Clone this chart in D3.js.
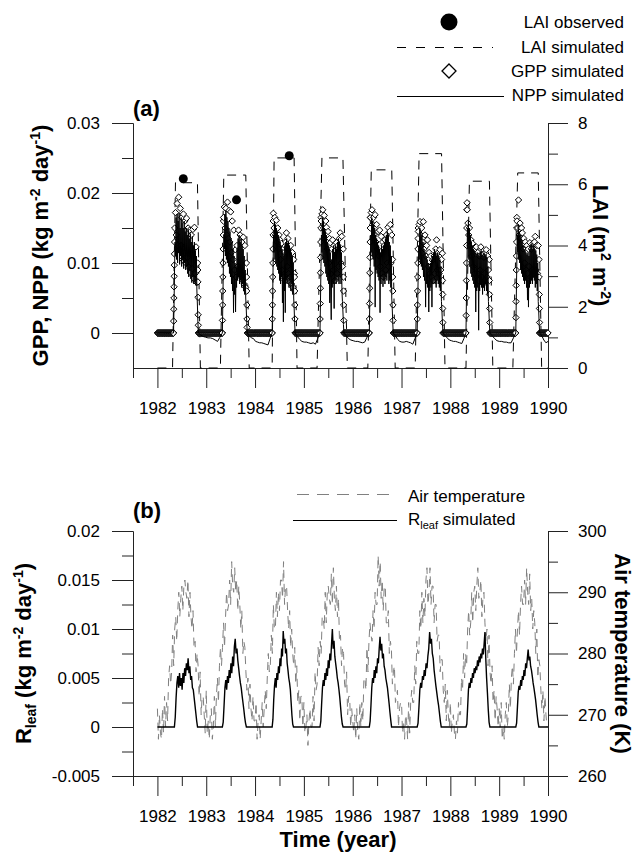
<!DOCTYPE html>
<html>
<head>
<meta charset="utf-8">
<script src="https://cdn.jsdelivr.net/npm/d3@7"></script>
<style>
  body { margin: 0; background: #fff; }
</style>
</head>
<body>
<script>
// ---------------- data ----------------
// growing seasons, decimal year
var seasonStart = [1982.33, 1983.33, 1984.35, 1985.33, 1986.34, 1987.32, 1988.32, 1989.34];
var seasonEnd   = [1982.84, 1983.84, 1984.82, 1985.82, 1986.83, 1987.85, 1988.81, 1989.83];

// GPP, units of 1e-4 kg m-2 day-1 ; rise and fall are daily, mid part evenly spread
var gppRise = [
  [0, 17, 34, 50, 66, 81, 97, 113, 130],
  [0, 18, 40, 60, 80, 100, 120, 140, 160],
  [0, 20, 40, 60, 80, 100, 120, 140, 160],
  [0, 20, 42, 64, 86, 108, 130, 150, 165],
  [0, 20, 42, 64, 86, 108, 130, 150, 165],
  [0, 20, 40, 60, 80, 100, 120, 135, 150],
  [0, 25, 50, 75, 100, 125, 150, 176, 186],
  [0, 22, 45, 68, 90, 110, 130, 150, 165]
];
var gppMid = [
  [150, 172, 140, 185, 125, 194, 118, 178, 125, 165, 105, 170, 115, 160, 100, 164, 108, 150, 94, 147, 86, 140, 92, 148, 78, 151, 85, 123, 72, 100],
  [165, 180, 150, 178, 140, 187, 135, 175, 130, 173, 115, 160, 105, 147, 90, 119, 80, 125, 95, 147, 90, 140, 85, 130, 75, 137, 70, 125, 65, 100],
  [171, 150, 165, 140, 161, 130, 150, 120, 140, 133, 105, 128, 90, 119, 80, 115, 75, 130, 143, 95, 135, 85, 119, 80, 125, 70, 115, 65, 105, 85],
  [160, 170, 176, 150, 168, 135, 160, 151, 120, 145, 100, 135, 129, 85, 120, 133, 90, 125, 75, 118, 129, 85, 125, 95, 135, 143, 100, 138, 95, 120],
  [165, 172, 176, 155, 165, 140, 169, 130, 155, 120, 145, 110, 147, 95, 138, 85, 130, 80, 125, 133, 90, 140, 100, 151, 95, 145, 155, 100, 140, 105],
  [145, 155, 159, 140, 150, 130, 159, 120, 140, 110, 125, 133, 95, 115, 85, 110, 80, 104, 75, 110, 85, 120, 133, 90, 115, 85, 119, 90, 105, 114],
  [176, 157, 140, 150, 125, 133, 110, 128, 95, 120, 85, 118, 123, 80, 115, 75, 110, 90, 123, 80, 112, 70, 108, 85, 115, 119, 80, 110, 90, 105],
  [160, 150, 190, 140, 157, 135, 150, 143, 120, 135, 100, 130, 90, 125, 85, 120, 95, 129, 80, 120, 90, 128, 85, 130, 138, 90, 125, 85, 125, 105]
];
var gppFall = [
  [90, 73, 51, 26, 11, 0],
  [80, 60, 40, 20, 8, 0],
  [80, 60, 40, 20, 0],
  [80, 60, 40, 18, 0],
  [80, 60, 40, 18, 0],
  [75, 55, 35, 15, 0],
  [75, 55, 35, 15, 0],
  [80, 55, 35, 15, 0]
];
var gppDormant = 0;

// NPP, units of 1e-4 kg m-2 day-1 ; season values spread from start to end
var nppSeason = [
  [0, 40, 90, 130, 110, 165, 105, 170, 100, 160, 115, 172, 98, 150, 110, 165, 95, 158, 104, 150, 92, 160, 100, 145, 90, 150, 96, 140, 85, 148, 80, 135, 90, 142, 78, 130, 72, 138, 80, 125, 70, 130, 75, 118, 68, 110, 60, 40, 15, 0],
  [0, 45, 95, 140, 120, 170, 110, 175, 105, 165, 100, 160, 95, 150, 85, 145, 80, 135, 70, 130, 60, 120, 29, 110, 55, 100, 30, 95, 65, 120, 75, 135, 80, 140, 70, 130, 75, 135, 65, 125, 70, 120, 60, 110, 55, 90, 50, 35, 15, 0],
  [0, 45, 95, 140, 115, 160, 105, 155, 100, 150, 95, 145, 90, 140, 85, 135, 75, 130, 70, 125, 80, 120, 43, 115, 16, 110, 60, 125, 29, 130, 75, 135, 70, 128, 80, 130, 65, 125, 75, 120, 60, 115, 70, 110, 55, 100, 50, 35, 15, 0],
  [0, 45, 95, 140, 115, 165, 105, 160, 100, 150, 95, 145, 85, 140, 80, 130, 75, 125, 70, 120, 43, 115, 60, 19, 105, 65, 120, 70, 125, 35, 115, 75, 125, 70, 120, 80, 130, 75, 135, 70, 130, 80, 125, 70, 115, 60, 45, 30, 12, 0],
  [0, 45, 95, 140, 115, 165, 110, 160, 105, 155, 95, 150, 37, 140, 90, 135, 85, 130, 80, 125, 75, 120, 29, 115, 70, 125, 80, 120, 66, 125, 75, 130, 70, 135, 80, 140, 75, 145, 85, 140, 70, 130, 75, 125, 65, 110, 50, 35, 15, 0],
  [0, 40, 85, 125, 105, 150, 100, 145, 95, 140, 90, 130, 80, 120, 75, 115, 37, 110, 70, 105, 65, 100, 30, 95, 60, 100, 65, 105, 37, 110, 70, 115, 75, 120, 70, 115, 65, 110, 75, 115, 70, 110, 65, 105, 60, 95, 45, 30, 12, 0],
  [0, 50, 100, 150, 120, 160, 105, 150, 95, 140, 85, 130, 80, 125, 75, 120, 70, 118, 65, 115, 30, 110, 60, 115, 65, 112, 4, 110, 60, 115, 70, 118, 65, 112, 55, 110, 65, 115, 60, 110, 70, 112, 60, 108, 55, 95, 45, 30, 12, 0],
  [0, 45, 95, 140, 115, 155, 105, 145, 100, 140, 90, 135, 85, 130, 80, 125, 75, 120, 70, 118, 75, 115, 65, 112, 47, 115, 37, 110, 65, 120, 70, 125, 75, 128, 70, 120, 80, 125, 75, 120, 65, 118, 70, 112, 60, 100, 45, 30, 12, 0]
];
// NPP in the dormant periods (before 1982 season, between seasons, after 1989 season)
var nppWinter = [
  [0, 0, 0],
  [-3, -5, -6, -7, -7, -8, -10, -12, -6],
  [-4, -7, -8, -12, -13, -14, -14, -15, -16, -17, -8],
  [-5, -9, -12, -13, -13, -14, -15, -14, -16, -8],
  [-4, -8, -10, -11, -12, -12, -13, -14, -13, -6],
  [-4, -9, -12, -13, -13, -12, -13, -14, -16, -8],
  [-4, -7, -10, -11, -12, -12, -13, -14, -15, -8],
  [-4, -8, -11, -12, -12, -13, -13, -14, -14, -7],
  [-4, -10, -14, -12]
];

// LAI (m2 m-2)
var laiSimYear = [1982.0, 1982.31, 1982.37, 1982.82, 1982.88, 1983.29, 1983.36, 1983.81, 1983.88,
  1984.35, 1984.39, 1984.80, 1984.86, 1985.27, 1985.37, 1985.80, 1985.89, 1986.31, 1986.38, 1986.80, 1986.87,
  1987.28, 1987.36, 1987.82, 1987.89, 1988.32, 1988.39, 1988.80, 1988.87, 1989.28, 1989.38, 1989.80, 1989.87, 1990.0];
var laiSimValue = [0, 0, 6.05, 6.05, 0, 0, 6.3, 6.3, 0,
  0, 6.86, 6.86, 0, 0, 6.86, 6.86, 0, 0, 6.47, 6.47, 0,
  0, 7.0, 7.0, 0, 0, 6.1, 6.1, 0, 0, 6.37, 6.37, 0, 0];
var laiObsYear = [1982.53, 1983.62, 1984.70];
var laiObsValue = [6.18, 5.49, 6.93];

// R_leaf, units of 1e-4 kg m-2 day-1, spread from season start to end
var rleafSeason = [
  [0, 0, 10, 30, 45, 52, 40, 55, 42, 50, 38, 55, 45, 60, 52, 65, 58, 70, 55, 62, 48, 52, 40, 38, 30, 22, 14, 6, 0, 0],
  [0, 5, 22, 40, 48, 38, 52, 45, 58, 50, 65, 55, 72, 62, 82, 90, 75, 80, 68, 60, 52, 45, 40, 32, 25, 18, 10, 4, 0, 0],
  [0, 8, 28, 42, 50, 40, 55, 48, 62, 55, 70, 62, 80, 72, 98, 85, 90, 75, 80, 65, 58, 50, 45, 38, 25, 12, 3, 0, 0, 0],
  [0, 6, 24, 40, 48, 42, 55, 48, 60, 52, 68, 60, 75, 68, 85, 100, 80, 88, 72, 65, 58, 50, 45, 38, 30, 20, 10, 3, 0, 0],
  [0, 6, 22, 40, 50, 45, 58, 50, 62, 55, 70, 65, 80, 92, 78, 85, 70, 75, 62, 58, 50, 45, 40, 32, 24, 15, 7, 0, 0, 0],
  [0, 4, 20, 38, 45, 40, 52, 48, 58, 52, 65, 60, 72, 80, 97, 85, 90, 75, 70, 58, 50, 42, 35, 28, 22, 14, 6, 0, 0, 0],
  [0, 3, 20, 38, 45, 40, 50, 45, 55, 50, 60, 55, 62, 58, 68, 62, 72, 66, 75, 70, 80, 74, 85, 97, 70, 50, 35, 18, 5, 0],
  [0, 4, 20, 36, 42, 38, 48, 42, 52, 48, 58, 52, 65, 60, 70, 79, 68, 72, 62, 58, 52, 45, 40, 34, 28, 20, 12, 5, 0, 0]
];

// air temperature (K), 48 readings per year
var tempYears = [1982, 1983, 1984, 1985, 1986, 1987, 1988, 1989];
var airTemp = [
  [271, 266, 270, 267, 266, 271, 267, 273, 268, 272, 269, 276, 278, 275, 277, 283, 278, 284, 286, 282, 287, 290, 286, 289, 291, 287, 291, 292, 290, 289, 292, 286, 290, 286, 284, 287, 281, 282, 277, 280, 278, 273, 277, 270, 273, 273, 270, 267],
  [274, 267, 269, 266, 270, 271, 266, 268, 273, 268, 273, 276, 272, 278, 281, 278, 281, 285, 281, 286, 290, 287, 288, 292, 288, 295, 291, 290, 294, 290, 292, 287, 291, 288, 284, 287, 280, 282, 281, 277, 274, 276, 271, 275, 271, 269, 273, 269],
  [269, 272, 266, 269, 270, 266, 269, 272, 268, 271, 274, 271, 276, 280, 277, 278, 283, 280, 288, 284, 284, 290, 286, 290, 287, 292, 292, 289, 295, 288, 291, 291, 287, 284, 287, 281, 284, 280, 278, 281, 275, 278, 272, 274, 269, 273, 273, 268],
  [272, 267, 268, 270, 265, 269, 271, 268, 268, 273, 269, 277, 274, 275, 281, 278, 282, 280, 286, 286, 284, 290, 285, 290, 291, 289, 288, 293, 288, 294, 289, 287, 291, 286, 289, 282, 283, 278, 281, 280, 275, 274, 277, 270, 273, 273, 268, 271],
  [269, 267, 270, 266, 271, 267, 266, 272, 268, 272, 269, 276, 276, 274, 281, 277, 282, 285, 283, 282, 287, 284, 290, 288, 288, 296, 291, 295, 289, 292, 287, 291, 291, 285, 285, 287, 280, 282, 281, 275, 277, 278, 272, 273, 274, 268, 271, 272],
  [272, 267, 269, 266, 270, 269, 266, 272, 267, 272, 274, 272, 272, 278, 275, 282, 280, 280, 287, 284, 290, 285, 289, 286, 292, 294, 288, 290, 294, 288, 291, 291, 285, 288, 288, 282, 283, 283, 277, 279, 279, 274, 272, 275, 269, 274, 270, 268],
  [272, 267, 269, 270, 267, 266, 269, 267, 272, 270, 270, 276, 274, 280, 276, 280, 278, 284, 287, 283, 285, 290, 285, 290, 291, 287, 291, 294, 289, 290, 292, 286, 289, 290, 285, 282, 284, 278, 283, 277, 275, 278, 272, 274, 269, 273, 271, 268],
  [271, 268, 272, 266, 268, 266, 270, 272, 268, 270, 275, 271, 276, 278, 275, 280, 284, 280, 284, 287, 283, 288, 291, 288, 288, 292, 288, 294, 290, 288, 293, 287, 289, 284, 287, 285, 280, 284, 276, 279, 278, 274, 271, 274, 269, 273, 270, 268]
];

var yearTicks = [1982, 1983, 1984, 1985, 1986, 1987, 1988, 1989, 1990];
var halfYearTicks = [1981.5, 1982.5, 1983.5, 1984.5, 1985.5, 1986.5, 1987.5, 1988.5, 1989.5];

// ---------------- build series ----------------
var UNIT = 1e-4, DAY = 1 / 365, FIRST = 1982.0, LAST = 1990.0;

function spread(vals, t0, t1) {
  return vals.map(function(v, i) { return [t0 + i * (t1 - t0) / (vals.length - 1), v * UNIT]; });
}

var gppPts = [];
seasonStart.forEach(function(s, k) {
  var e = seasonEnd[k];
  gppRise[k].forEach(function(v, d) { gppPts.push([s + d * DAY, v * UNIT]); });
  var m0 = s + gppRise[k].length * DAY, m1 = e - gppFall[k].length * DAY;
  gppPts = gppPts.concat(spread(gppMid[k], m0, m1));
  var f = gppFall[k];
  f.forEach(function(v, d) { gppPts.push([e - (f.length - 1 - d) * DAY, v * UNIT]); });
});
// dormant days carry GPP = 0
var dormant = [[FIRST, seasonStart[0]]];
seasonEnd.forEach(function(e, k) { dormant.push([e, k < 7 ? seasonStart[k + 1] : LAST]); });
dormant.forEach(function(p) {
  for (var t = p[0]; t <= p[1]; t += 2 * DAY) gppPts.push([t, gppDormant]);
});

var nppPts = [];
nppWinter.forEach(function(w, k) {
  var a = k === 0 ? FIRST : seasonEnd[k - 1];
  var b = k < 8 ? seasonStart[k] : LAST;
  w.forEach(function(v, i) {
    var t = k === 0 ? a + i * (b - a) / w.length : a + (i + 1) * (b - a) / (w.length + (k < 8 ? 1 : 0));
    nppPts.push([t, v * UNIT]);
  });
  if (k < 8) nppPts = nppPts.concat(spread(nppSeason[k], seasonStart[k], seasonEnd[k]));
});

var rleafPts = [[FIRST, 0]];
rleafSeason.forEach(function(vals, k) { rleafPts = rleafPts.concat(spread(vals, seasonStart[k], seasonEnd[k])); });
rleafPts.push([LAST, 0]);

var tempPts = [];
airTemp.forEach(function(vals, k) {
  vals.forEach(function(v, i) { tempPts.push([tempYears[k] + i / vals.length, v]); });
});

// ---------------- drawing ----------------
var font = "'Liberation Sans', Arial, Helvetica, sans-serif";
var svg = d3.select("body").append("svg").attr("width", 635).attr("height", 853)
  .attr("font-family", font);

var xA = d3.scaleLinear().domain([1981.5, 1990]).range([133, 548]);
var yGpp = d3.scaleLinear().domain([-0.005, 0.03]).range([368, 123]);
var yLai = d3.scaleLinear().domain([0, 8]).range([368, 123]);
var xB = d3.scaleLinear().domain([1981.5, 1990]).range([133, 548]);
var yRleaf = d3.scaleLinear().domain([-0.005, 0.02]).range([776, 531]);
var yTemp = d3.scaleLinear().domain([260, 300]).range([776, 531]);

var fmt = function(v) { return String(+v.toFixed(4)); };

function axisPair(maker, scale, major, minor, majLen, minLen, pad, tr) {
  [[minor, minLen, function() { return ""; }], [major, majLen, fmt]].forEach(function(a) {
    var g = svg.append("g").attr("transform", tr)
      .call(maker(scale).tickValues(a[0]).tickSize(a[1]).tickSizeOuter(0).tickPadding(pad).tickFormat(a[2]));
    g.attr("font-family", font).attr("font-size", 17);
    g.selectAll("path,line").attr("stroke", "#222");
    g.selectAll("text").attr("fill", "#000");
  });
}

// panel (a) axes
axisPair(d3.axisLeft, yGpp, [0, 0.01, 0.02, 0.03], [0.005, 0.015, 0.025], 21, 11, 12, "translate(133,0)");
axisPair(d3.axisRight, yLai, [0, 2, 4, 6, 8], [1, 3, 5, 7], 20, 10, 10, "translate(548,0)");
axisPair(d3.axisBottom, xA, yearTicks, halfYearTicks, 20, 10, 14, "translate(0,368)");
// panel (b) axes
axisPair(d3.axisLeft, yRleaf, [-0.005, 0, 0.005, 0.01, 0.015, 0.02], [-0.0025, 0.0025, 0.0075, 0.0125, 0.0175], 21, 11, 12, "translate(133,0)");
axisPair(d3.axisRight, yTemp, [260, 270, 280, 290, 300], [265, 275, 285, 295], 20, 10, 10, "translate(548,0)");
axisPair(d3.axisBottom, xB, yearTicks, halfYearTicks, 20, 10, 14, "translate(0,776)");

function diamond(r) { return "M0," + (-r) + "L" + r + ",0L0," + r + "L" + (-r) + ",0Z"; }

// ---- panel (a) marks
var laiLine = d3.line().x(function(d) { return xA(d[0]); }).y(function(d) { return yLai(d[1]); });
svg.append("path")
  .datum(laiSimYear.map(function(t, i) { return [t, laiSimValue[i]]; }))
  .attr("d", laiLine).attr("fill", "none").attr("stroke", "#000").attr("stroke-width", 1)
  .attr("stroke-dasharray", "9,7");

svg.append("g").selectAll("path").data(gppPts).enter().append("path")
  .attr("d", diamond(3.2))
  .attr("transform", function(d) { return "translate(" + xA(d[0]) + "," + yGpp(d[1]) + ")"; })
  .attr("fill", "#fff").attr("stroke", "#000").attr("stroke-width", 1);

var nppLine = d3.line().x(function(d) { return xA(d[0]); }).y(function(d) { return yGpp(d[1]); });
svg.append("path").datum(nppPts).attr("d", nppLine)
  .attr("fill", "none").attr("stroke", "#000").attr("stroke-width", 1);

svg.append("g").selectAll("circle").data(laiObsYear).enter().append("circle")
  .attr("cx", function(d) { return xA(d); })
  .attr("cy", function(d, i) { return yLai(laiObsValue[i]); })
  .attr("r", 4.5).attr("fill", "#000");

// ---- panel (b) marks
var tempLine = d3.line().x(function(d) { return xB(d[0]); }).y(function(d) { return yTemp(d[1]); });
svg.append("path").datum(tempPts).attr("d", tempLine)
  .attr("fill", "none").attr("stroke", "#808080").attr("stroke-width", 1)
  .attr("stroke-dasharray", "8,6");

var rleafLine = d3.line().x(function(d) { return xB(d[0]); }).y(function(d) { return yRleaf(d[1]); });
svg.append("path").datum(rleafPts).attr("d", rleafLine)
  .attr("fill", "none").attr("stroke", "#000").attr("stroke-width", 1.4);

// ---- titles
function rich(sel, parts) {
  parts.forEach(function(p) {
    var t = sel.append("tspan").text(p[0]);
    if (p[1]) t.attr("font-size", p[1]);
    if (p[2]) t.attr("dy", p[2]);
  });
  return sel;
}

svg.append("text").attr("x", 133).attr("y", 116).attr("font-size", 22).attr("font-weight", "bold").text("(a)");
svg.append("text").attr("x", 133).attr("y", 518).attr("font-size", 22).attr("font-weight", "bold").text("(b)");

rich(svg.append("text").attr("transform", "translate(48,245.5) rotate(-90)")
  .attr("text-anchor", "middle").attr("font-size", 22).attr("font-weight", "bold"),
  [["GPP, NPP (kg m"], ["-2", 14, -8], [" day", null, 8], ["-1", 14, -8], [")", null, 8]]);

rich(svg.append("text").attr("transform", "translate(593,245.5) rotate(90)")
  .attr("text-anchor", "middle").attr("font-size", 22).attr("font-weight", "bold"),
  [["LAI (m"], ["2", 14, -8], [" m", null, 8], ["-2", 14, -8], [")", null, 8]]);

rich(svg.append("text").attr("transform", "translate(31,653.5) rotate(-90)")
  .attr("text-anchor", "middle").attr("font-size", 22).attr("font-weight", "bold"),
  [["R"], ["leaf", 14, 5], [" (kg m", null, -5], ["-2", 14, -8], [" day", null, 8], ["-1", 14, -8], [")", null, 8]]);

svg.append("text").attr("transform", "translate(615,653.5) rotate(90)")
  .attr("text-anchor", "middle").attr("font-size", 22).attr("font-weight", "bold")
  .text("Air temperature (K)");

svg.append("text").attr("x", 338).attr("y", 847).attr("text-anchor", "middle")
  .attr("font-size", 22).attr("font-weight", "bold").text("Time (year)");

// ---- legend (a)
var legA = svg.append("g").attr("font-size", 17);
legA.append("circle").attr("cx", 449).attr("cy", 22).attr("r", 8.5).attr("fill", "#000");
legA.append("line").attr("x1", 397).attr("x2", 493).attr("y1", 47.5).attr("y2", 47.5)
  .attr("stroke", "#000").attr("stroke-dasharray", "9,10");
legA.append("path").attr("d", diamond(7)).attr("transform", "translate(449,71)")
  .attr("fill", "#fff").attr("stroke", "#000").attr("stroke-width", 1.3);
legA.append("line").attr("x1", 397).attr("x2", 504).attr("y1", 96.5).attr("y2", 96.5).attr("stroke", "#000");
[["LAI observed", 28], ["LAI simulated", 53], ["GPP simulated", 77], ["NPP simulated", 101]].forEach(function(d) {
  legA.append("text").attr("x", 624).attr("y", d[1]).attr("text-anchor", "end").text(d[0]);
});

// ---- legend (b)
var legB = svg.append("g").attr("font-size", 17);
legB.append("line").attr("x1", 297).attr("x2", 389).attr("y1", 494.5).attr("y2", 494.5)
  .attr("stroke", "#808080").attr("stroke-dasharray", "12,8");
legB.append("line").attr("x1", 293).attr("x2", 397).attr("y1", 520.5).attr("y2", 520.5).attr("stroke", "#000");
legB.append("text").attr("x", 408).attr("y", 502).text("Air temperature");
rich(legB.append("text").attr("x", 408).attr("y", 525),
  [["R"], ["leaf", 11, 4], [" simulated", null, -4]]);
</script>
</body>
</html>
